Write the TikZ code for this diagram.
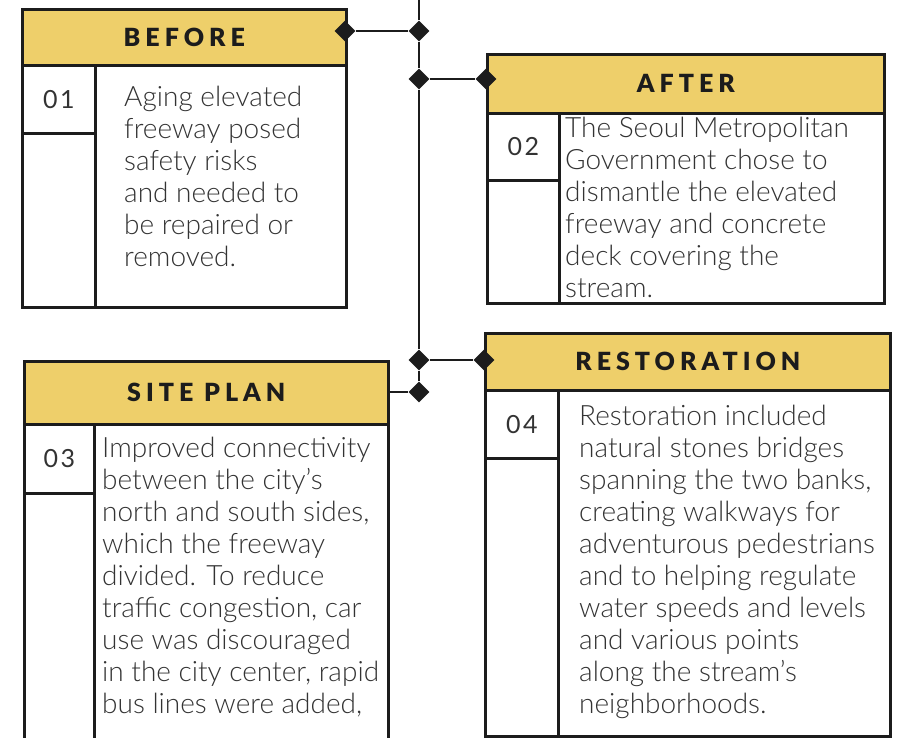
\documentclass[tikz,border=0pt]{standalone}
\usepackage{fontspec}
\setmainfont{Lato}[UprightFont=* Light]
\newfontfamily\headfont{Lato}[UprightFont=* Black, LetterSpace=20]
\newfontfamily\numfont{Lato}[LetterSpace=10]
\usepackage{tikz}
\usetikzlibrary{shapes.geometric, positioning}
\definecolor{mostaza}{RGB}{238,207,106}
\definecolor{tinta}{RGB}{28,28,28}

\begin{document}
\begin{tikzpicture}[
      x=1pt, y=-1pt,
      header/.style = {shape=rectangle, draw=tinta, line width=2.6pt,
        fill=mostaza, anchor=north west, inner sep=0pt,
        font=\headfont\fontsize{25}{30}\selectfont, text=tinta
      },
      panel/.style = {shape=rectangle, draw=tinta, line width=2.6pt,
        fill=white, anchor=north west, inner sep=0pt
      },
      numbox/.style = {shape=rectangle, draw=tinta, line width=2.6pt,
        anchor=north west, inner sep=0pt,
        font=\numfont\fontsize{25}{28}\selectfont, text=tinta!90
      },
      texto/.style = {anchor=north west, align=left, inner sep=0pt,
        font=\fontsize{28}{32}\selectfont, text=tinta!90},
      joint/.style = {shape=diamond, fill=tinta, inner sep=0pt,
        minimum width=21pt, minimum height=21pt},
      link/.style = {draw=tinta, line width=2.6pt}
    ]
    \useasboundingbox (0,0) rectangle (909,737);

    % before
    \node[panel, minimum width=324pt, minimum height=242pt] (beforeBody) at (21,64) {};
    \node[numbox, minimum width=73pt, minimum height=242pt] (beforeCol) at (21,64) {};
    \node[numbox, minimum width=73pt, minimum height=68pt] (beforeNum) at (21,64) {01};
    \node[header, minimum width=324pt, minimum height=56pt] (beforeHead) at (21,8) {BEFORE};
    \node[texto] (beforeText) at (124,85.5) {Aging elevated\\ freeway posed\\ safety risks\\
      and needed to\\ be repaired or\\ removed.};

    % after
    \node[panel, minimum width=397pt, minimum height=190pt] (afterBody) at (486,112) {};
    \node[numbox, minimum width=72pt, minimum height=190pt] (afterCol) at (486,112) {};
    \node[numbox, minimum width=72pt, minimum height=67pt] (afterNum) at (486,112) {02};
    \node[header, minimum width=397pt, minimum height=59pt] (afterHead) at (486,53) {AFTER};
    \node[texto] (afterText) at (565,116.5) {The Seoul Metropolitan\\ Government chose to\\
      dismantle the elevated\\ freeway and concrete\\ deck covering the\\ stream.};

    % site plan
    \node[panel, minimum width=364pt, minimum height=340pt] (siteBody) at (23,423) {};
    \node[numbox, minimum width=70pt, minimum height=340pt] (siteCol) at (23,423) {};
    \node[numbox, minimum width=70pt, minimum height=69pt] (siteNum) at (23,423) {03};
    \node[header, minimum width=364pt, minimum height=63pt] (siteHead) at (23,360) {SITE PLAN};
    \node[texto] (siteText) at (102,436.5) {Improved connectivity\\ between the city’s\\
      north and south sides,\\ which the freeway\\ divided. To reduce\\
      traffic congestion, car\\ use was discouraged\\ in the city center, rapid\\
      bus lines were added,};

    % restoration
    \node[panel, minimum width=405pt, minimum height=346pt] (restBody) at (484,389) {};
    \node[numbox, minimum width=73pt, minimum height=346pt] (restCol) at (484,389) {};
    \node[numbox, minimum width=73pt, minimum height=68pt] (restNum) at (484,389) {04};
    \node[header, minimum width=405pt, minimum height=57pt] (restHead) at (484,332) {RESTORATION};
    \node[texto] (restText) at (579,404.5) {Restoration included\\ natural stones bridges\\
      spanning the two banks,\\ creating walkways for\\ adventurous pedestrians\\
      and to helping regulate\\ water speeds and levels\\ and various points\\
      along the stream’s\\ neighborhoods.};

    % spine and joints
    \coordinate (spineTop) at (419,-5);
    \node[joint] (spineA) at (419,31) {};
    \node[joint] (spineB) at (419,79) {};
    \node[joint] (spineC) at (419,360) {};
    \node[joint] (spineD) at (419,392) {};
    \node[joint] (beforeTip) at (345,31) {};
    \node[joint] (afterTip) at (486,79) {};
    \node[joint] (restTip) at (484,360) {};

    \draw[link] (spineTop) -- (spineA) -- (spineB) -- (spineC) -- (spineD);
    \draw[link] (beforeTip) -- (spineA);
    \draw[link] (spineB) -- (afterTip);
    \draw[link] (spineC) -- (restTip);
    \draw[link] (siteHead.east |- spineD) -- (spineD);
\end{tikzpicture}
\end{document}
